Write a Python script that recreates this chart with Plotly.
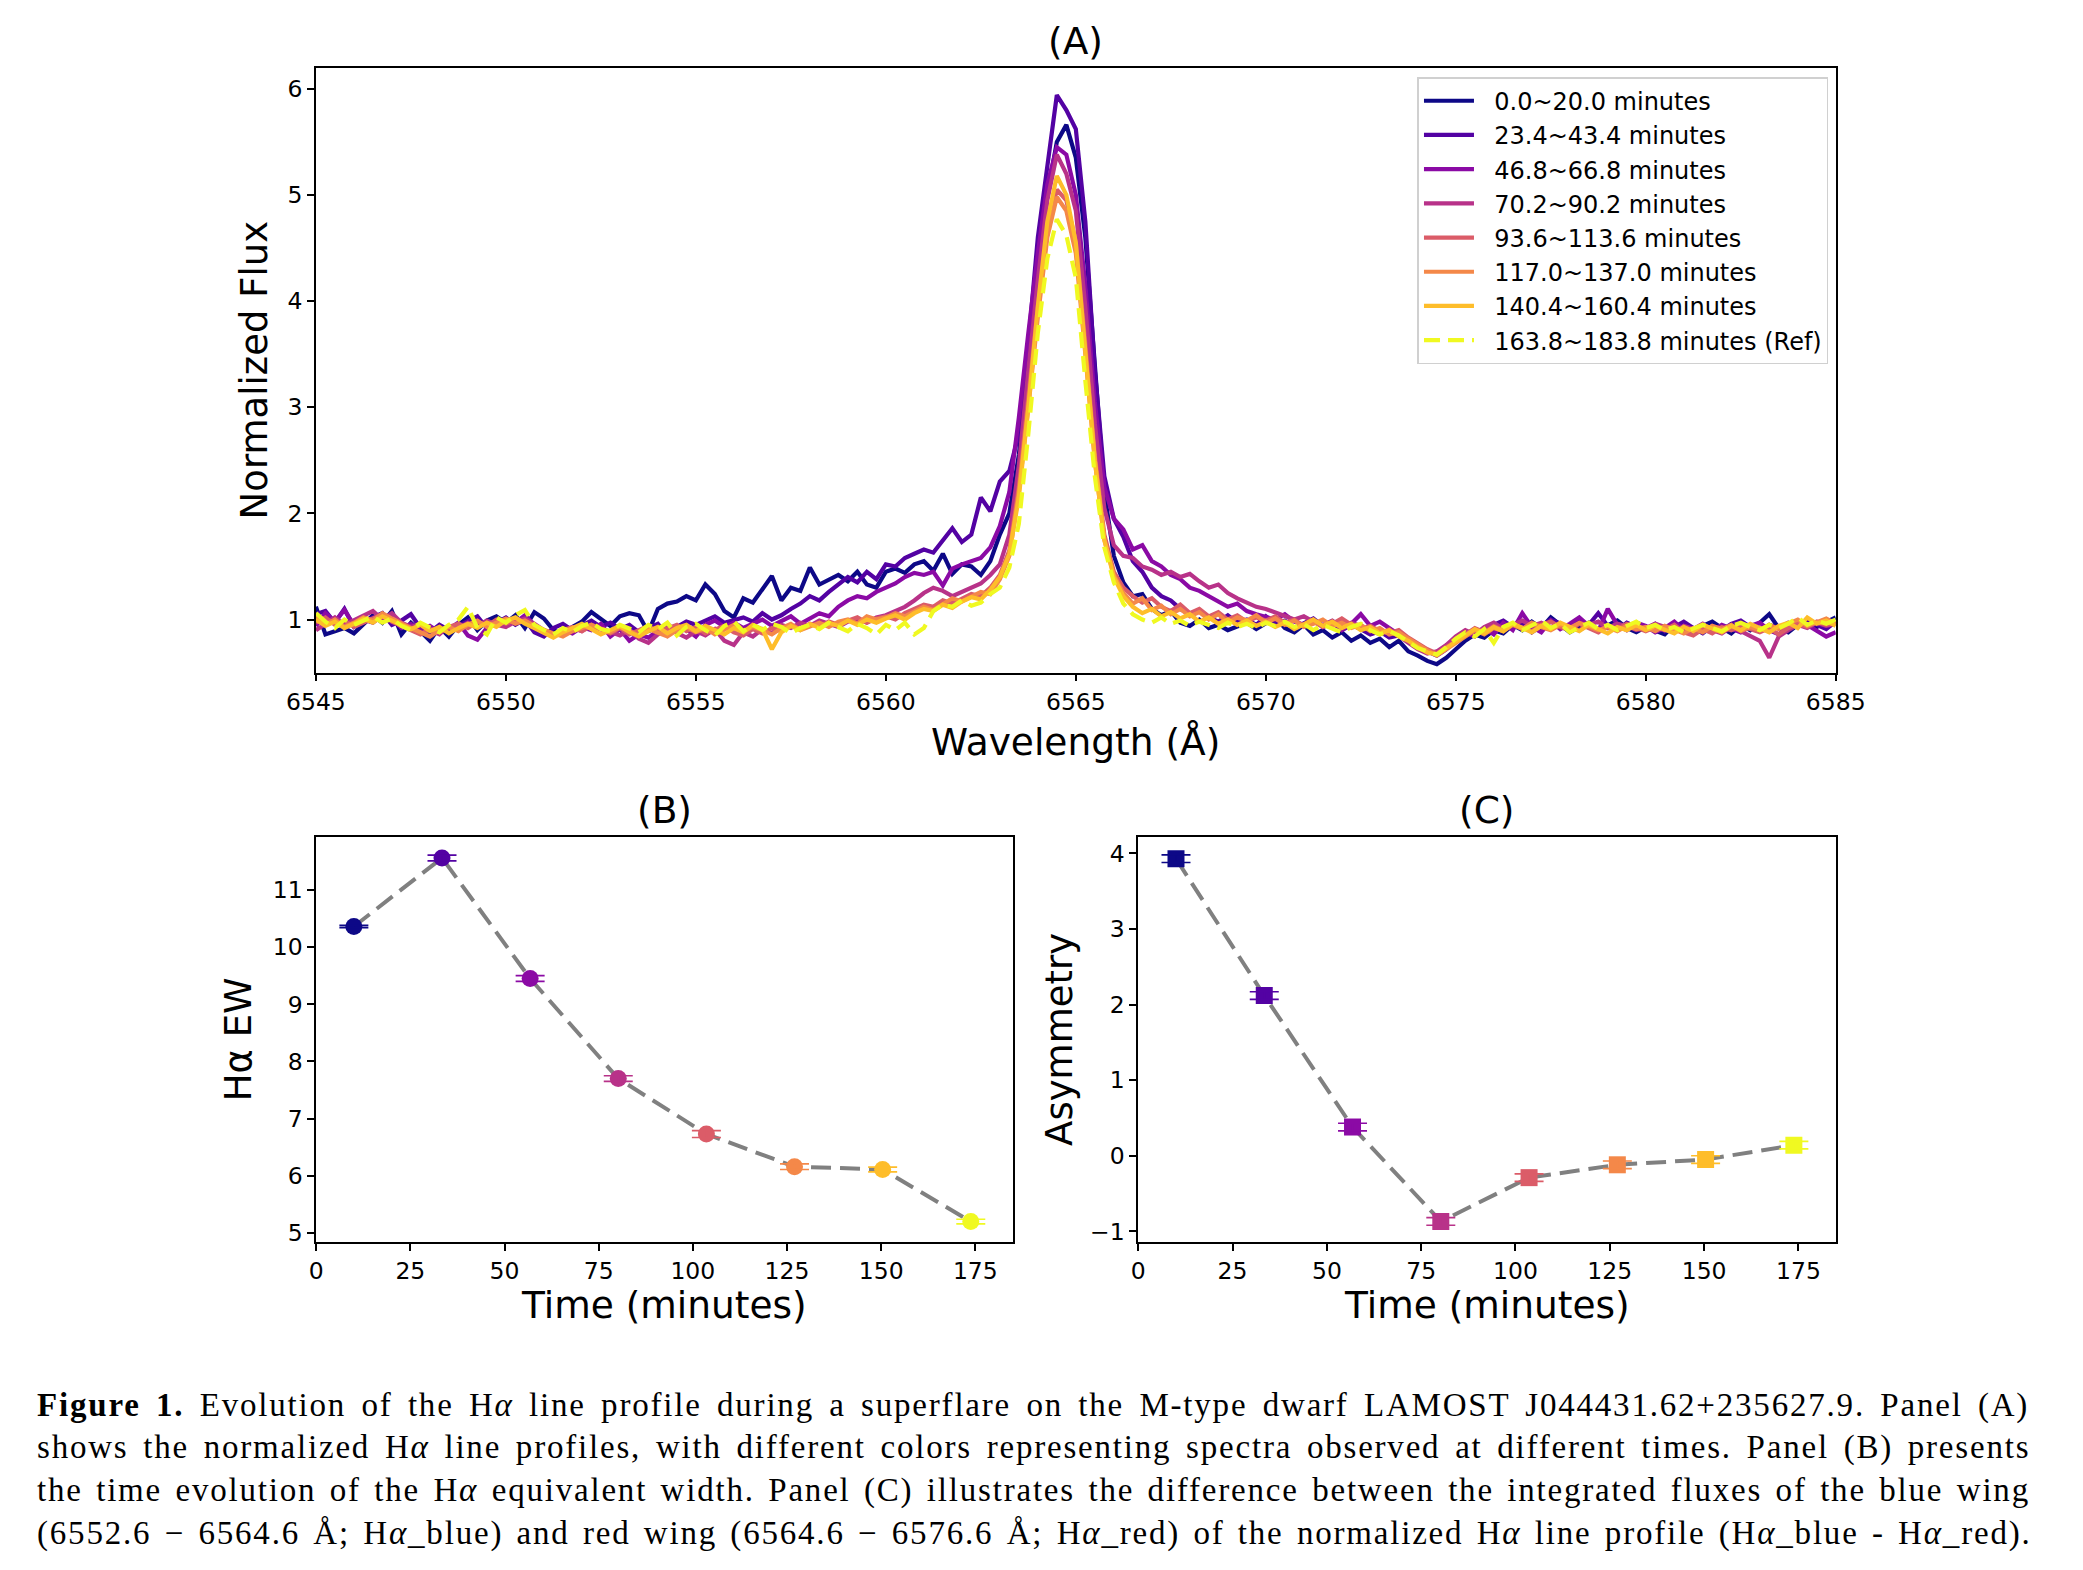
import plotly.graph_objects as go

W, H = 2083, 1570

# ---------------- data ----------------
wavelength = [round(6545 + 0.25 * i, 2) for i in range(161)]

labels = ["0.0~20.0 minutes", "23.4~43.4 minutes", "46.8~66.8 minutes", "70.2~90.2 minutes",
          "93.6~113.6 minutes", "117.0~137.0 minutes", "140.4~160.4 minutes", "163.8~183.8 minutes (Ref)"]
colors = ["#0d0887", "#5302a3", "#8b0aa5", "#b83289", "#db5c68", "#f48849", "#febd2a", "#f0f921"]

flux_0_20 = [
    1.12, 0.86, 0.89, 0.92, 0.87, 0.96, 1.04, 0.97, 1.08, 0.86, 0.97, 0.89, 0.80, 0.93, 0.84, 0.95, 1.02, 0.90, 0.99, 1.03,
    0.97, 1.04, 0.92, 1.07, 1.01, 0.90, 0.86, 0.93, 0.98, 1.07, 1.00, 0.94, 1.03, 1.06, 1.04, 0.88, 1.10, 1.15, 1.17, 1.22,
    1.18, 1.33, 1.24, 1.08, 1.02, 1.20, 1.16, 1.28, 1.41, 1.18, 1.30, 1.27, 1.49, 1.33, 1.38, 1.42, 1.36, 1.45, 1.33, 1.30,
    1.45, 1.48, 1.44, 1.52, 1.55, 1.46, 1.62, 1.43, 1.52, 1.50, 1.42, 1.55, 1.80, 2.00, 2.55, 3.35, 4.20, 5.00, 5.50, 5.66,
    5.35, 4.60, 3.40, 2.20, 1.60, 1.35, 1.22, 1.24, 1.10, 1.04, 1.08, 0.97, 0.94, 1.00, 0.92, 0.95, 0.90, 0.93, 0.97, 0.91,
    0.96, 1.02, 0.92, 0.88, 0.95, 0.86, 0.90, 0.83, 0.88, 0.80, 0.85, 0.78, 0.82, 0.74, 0.80, 0.70, 0.66, 0.61, 0.58, 0.64,
    0.72, 0.80, 0.86, 0.83, 0.90, 0.87, 0.95, 0.90, 0.98, 0.92, 1.02, 0.95, 0.88, 0.93, 0.97, 0.90, 0.94, 0.99, 0.92, 0.88,
    0.93, 0.90, 0.86, 0.95, 0.91, 0.88, 0.94, 0.98, 0.92, 0.87, 0.95, 0.90, 0.97, 1.05, 0.92, 0.88, 0.95, 1.00, 0.93, 0.97,
    1.02]
flux_23_43 = [
    1.05, 1.08, 0.97, 1.10, 0.93, 0.98, 1.02, 1.06, 0.95, 0.99, 1.05, 0.92, 0.88, 0.95, 0.90, 0.94, 0.98, 1.03, 0.92, 0.97,
    1.02, 0.95, 1.00, 0.88, 0.84, 0.92, 0.96, 0.90, 0.95, 0.99, 0.93, 0.97, 0.91, 0.95, 0.88, 0.92, 0.96, 0.85, 0.93, 0.98,
    0.95, 0.99, 1.03, 0.97, 1.00, 1.02, 0.98, 1.06, 1.00, 1.04, 1.10, 1.15, 1.22, 1.18, 1.26, 1.33, 1.40, 1.35, 1.45, 1.38,
    1.52, 1.50, 1.58, 1.62, 1.66, 1.63, 1.74, 1.86, 1.73, 1.80, 2.15, 2.02, 2.30, 2.40, 2.75, 3.60, 4.60, 5.30, 5.94, 5.80,
    5.62, 4.75, 3.35, 2.35, 1.95, 1.78, 1.55, 1.45, 1.30, 1.22, 1.18, 1.10, 1.05, 1.08, 1.02, 0.98, 1.04, 0.97, 1.00, 0.95,
    1.03, 0.96, 0.99, 0.92, 0.97, 1.01, 0.94, 0.98, 0.90, 0.95, 0.91, 0.86, 0.89, 0.83, 0.85, 0.80, 0.74, 0.70, 0.66, 0.72,
    0.80, 0.85, 0.91, 0.88, 0.95, 0.99, 0.93, 0.97, 0.88, 0.94, 1.00, 0.96, 0.92, 0.98, 0.95, 1.06, 0.94, 0.90, 0.97, 0.93,
    0.91, 0.96, 0.89, 0.93, 0.98, 0.92, 0.87, 0.94, 0.90, 0.96, 0.99, 0.93, 0.89, 0.95, 0.92, 0.97, 0.94, 0.99, 0.95, 0.91,
    0.98]
flux_46_66 = [
    0.94, 1.06, 0.98, 1.09, 0.95, 1.00, 0.97, 1.04, 1.01, 0.92, 0.96, 0.90, 0.94, 0.88, 0.91, 0.97, 0.85, 0.81, 0.92, 0.96,
    1.00, 0.97, 1.04, 0.95, 0.89, 0.85, 0.90, 0.87, 0.93, 0.90, 0.96, 0.84, 0.91, 0.80, 0.86, 0.83, 0.90, 0.96, 0.88, 0.91,
    0.84, 0.95, 0.99, 0.93, 0.97, 0.92, 0.96, 1.00, 0.94, 0.98, 1.03, 0.96, 1.01, 1.06, 1.03, 1.12, 1.18, 1.22, 1.20, 1.26,
    1.30, 1.34, 1.40, 1.44, 1.42, 1.45, 1.32, 1.48, 1.52, 1.55, 1.58, 1.68, 1.88, 2.20, 2.90, 3.70, 4.45, 5.10, 5.45, 5.38,
    5.00, 4.15, 3.05, 2.25, 1.95, 1.85, 1.66, 1.70, 1.55, 1.50, 1.42, 1.38, 1.30, 1.27, 1.22, 1.18, 1.12, 1.15, 1.08, 1.05,
    1.03, 1.00, 1.05, 0.98, 0.95, 1.00, 0.93, 0.97, 0.90, 0.96, 1.05, 0.94, 0.98, 0.92, 0.86, 0.82, 0.76, 0.70, 0.68, 0.75,
    0.82, 0.88, 0.84, 0.92, 0.86, 0.97, 0.90, 1.06, 0.93, 0.88, 0.99, 0.91, 0.96, 1.02, 0.94, 0.89, 1.10, 0.95, 0.90, 0.97,
    0.94, 0.88, 0.92, 0.98, 0.90, 0.86, 0.93, 0.89, 0.95, 0.91, 0.88, 0.94, 0.97, 0.90, 0.86, 0.93, 0.99, 0.95, 0.90, 0.84,
    0.88]
flux_70_90 = [
    0.90, 0.96, 1.02, 0.95, 0.99, 1.04, 1.08, 1.00, 1.06, 0.97, 0.93, 0.96, 0.90, 0.86, 0.94, 0.92, 0.97, 0.94, 0.99, 0.95,
    0.93, 0.98, 1.01, 0.96, 0.90, 0.86, 0.88, 0.92, 0.89, 0.95, 0.92, 0.88, 0.85, 0.90, 0.82, 0.78, 0.86, 0.92, 0.87, 0.83,
    0.89, 0.85, 0.91, 0.80, 0.76, 0.88, 0.84, 0.91, 0.87, 0.95, 0.92, 0.97, 0.94, 0.99, 0.96, 0.93, 0.98, 1.01, 0.97, 1.02,
    1.04, 1.08, 1.12, 1.18, 1.25, 1.30, 1.27, 1.22, 1.26, 1.30, 1.34, 1.42, 1.52, 1.80, 2.45, 3.35, 4.20, 4.95, 5.38, 5.20,
    4.85, 3.95, 2.85, 2.05, 1.70, 1.60, 1.58, 1.50, 1.47, 1.42, 1.45, 1.40, 1.43, 1.36, 1.30, 1.33, 1.25, 1.20, 1.16, 1.12,
    1.10, 1.07, 1.04, 1.00, 1.03, 0.98, 0.95, 0.99, 0.93, 0.97, 0.94, 0.90, 0.86, 0.91, 0.84, 0.78, 0.72, 0.68, 0.70, 0.76,
    0.84, 0.90, 0.86, 0.93, 0.97, 0.91, 0.95, 0.99, 0.94, 0.97, 0.92, 0.96, 0.93, 0.90, 0.95, 0.98, 0.92, 0.96, 0.94, 0.90,
    0.92, 0.96, 0.93, 0.88, 0.94, 0.91, 0.96, 0.90, 0.87, 0.93, 0.89, 0.85, 0.80, 0.64, 0.84, 0.90, 0.95, 0.92, 0.97, 0.94,
    0.96]
flux_93_113 = [
    0.97, 1.02, 0.95, 0.99, 0.93, 0.97, 1.01, 1.05, 0.98, 0.94, 0.90, 0.86, 0.91, 0.88, 0.93, 0.96, 0.92, 0.98, 0.94, 1.00,
    0.96, 1.00, 0.97, 0.92, 0.88, 0.85, 0.90, 0.93, 0.89, 0.94, 0.90, 0.87, 0.92, 0.86, 0.90, 0.94, 0.88, 0.91, 0.95, 0.89,
    0.93, 0.87, 0.90, 0.94, 0.88, 0.85, 0.91, 0.87, 0.92, 0.89, 0.94, 0.91, 0.96, 0.93, 0.98, 0.95, 0.99, 1.02, 0.97, 1.01,
    1.03, 1.00, 1.06, 1.10, 1.14, 1.12, 1.18, 1.15, 1.20, 1.24, 1.22, 1.30, 1.42, 1.65, 2.25, 3.10, 3.95, 4.65, 5.05, 4.95,
    4.55, 3.60, 2.55, 1.80, 1.45, 1.30, 1.22, 1.16, 1.20, 1.12, 1.08, 1.14, 1.06, 1.10, 1.03, 1.07, 1.00, 1.04, 0.98, 1.02,
    0.99, 1.03, 0.97, 1.00, 0.94, 0.98, 0.93, 0.96, 1.01, 0.95, 0.91, 0.94, 0.89, 0.87, 0.90, 0.83, 0.77, 0.72, 0.68, 0.74,
    0.81, 0.87, 0.92, 0.88, 0.94, 0.90, 0.96, 0.92, 0.89, 0.95, 0.98, 0.93, 0.90, 0.96, 0.92, 0.88, 0.94, 0.91, 0.96, 0.92,
    0.89, 0.93, 0.90, 0.95, 0.88, 0.85, 0.91, 0.87, 0.93, 0.90, 0.94, 0.91, 0.88, 0.92, 0.86, 0.92, 0.96, 0.93, 0.98, 0.95,
    0.97]
flux_117_137 = [
    1.03, 0.95, 1.00, 0.93, 0.97, 1.02, 0.99, 1.06, 1.01, 0.96, 0.92, 0.88, 0.84, 0.90, 0.93, 0.89, 0.95, 0.99, 0.93, 0.97,
    1.01, 0.96, 0.99, 0.94, 0.90, 0.87, 0.84, 0.89, 0.92, 0.95, 0.91, 0.88, 0.93, 0.89, 0.85, 0.91, 0.88, 0.84, 0.90, 0.93,
    0.88, 0.92, 0.86, 0.90, 0.95, 0.89, 0.93, 0.90, 0.86, 0.92, 0.96, 0.90, 0.94, 0.97, 0.93, 0.98, 1.00, 0.96, 1.03, 1.00,
    1.02, 1.06, 1.03, 1.08, 1.12, 1.09, 1.15, 1.20, 1.17, 1.22, 1.26, 1.24, 1.38, 1.60, 2.20, 3.00, 3.85, 4.60, 4.98, 4.85,
    4.45, 3.50, 2.50, 1.75, 1.42, 1.25, 1.15, 1.20, 1.09, 1.13, 1.05, 1.10, 1.03, 1.07, 1.00, 1.05, 0.97, 1.02, 0.99, 1.04,
    0.97, 1.01, 0.95, 0.99, 0.93, 0.96, 1.00, 0.94, 0.97, 0.92, 0.95, 0.89, 0.92, 0.86, 0.88, 0.82, 0.76, 0.71, 0.66, 0.72,
    0.79, 0.85, 0.90, 0.86, 0.92, 0.89, 0.95, 0.91, 0.97, 0.93, 0.90, 0.95, 0.92, 0.97, 0.94, 0.90, 0.93, 0.89, 0.94, 0.91,
    0.93, 0.89, 0.94, 0.90, 0.87, 0.92, 0.88, 0.94, 0.91, 0.95, 0.89, 0.93, 0.90, 0.95, 0.91, 0.96, 1.00, 0.94, 0.97, 1.01,
    0.96]
flux_140_160 = [
    1.00, 0.94, 0.98, 0.92, 0.96, 1.01, 0.97, 1.03, 0.99, 0.95, 0.91, 0.95, 0.89, 0.93, 0.87, 0.92, 0.96, 0.92, 0.97, 0.93,
    0.99, 1.02, 0.96, 0.92, 0.87, 0.83, 0.88, 0.92, 0.96, 0.91, 0.86, 0.90, 0.94, 0.88, 0.84, 0.89, 0.93, 0.87, 0.92, 0.95,
    0.89, 0.94, 0.90, 0.86, 0.92, 0.88, 0.95, 0.91, 0.72, 0.88, 0.94, 0.90, 0.96, 0.92, 0.97, 0.94, 0.99, 0.95, 1.00, 0.97,
    1.01, 1.04, 1.00, 1.06, 1.10, 1.08, 1.14, 1.11, 1.17, 1.21, 1.19, 1.28, 1.40, 1.62, 2.15, 3.00, 3.95, 4.75, 5.18, 5.00,
    4.55, 3.55, 2.50, 1.75, 1.40, 1.22, 1.12, 1.06, 1.10, 1.03, 1.07, 1.01, 1.05, 0.98, 1.02, 0.96, 1.00, 0.95, 0.99, 0.94,
    0.98, 0.93, 0.97, 0.91, 0.95, 1.00, 0.94, 0.98, 0.92, 0.96, 0.90, 0.93, 0.87, 0.90, 0.84, 0.80, 0.74, 0.69, 0.67, 0.73,
    0.80, 0.86, 0.91, 0.87, 0.93, 0.89, 0.96, 0.92, 0.88, 0.94, 0.91, 0.97, 0.93, 0.89, 0.95, 0.91, 0.87, 0.93, 0.90, 0.95,
    0.90, 0.94, 0.91, 0.87, 0.93, 0.89, 0.95, 0.92, 0.88, 0.94, 0.90, 0.96, 0.92, 0.88, 0.94, 0.97, 0.92, 1.02, 0.96, 0.99,
    0.94]
flux_163_183 = [
    1.06, 0.98, 0.92, 1.00, 0.95, 0.99, 1.03, 0.97, 1.01, 0.94, 0.90, 0.97, 0.93, 0.88, 0.95, 1.00, 1.12, 0.92, 0.86, 1.02,
    0.97, 1.04, 1.09, 0.95, 0.90, 0.86, 0.92, 0.88, 0.94, 0.97, 0.91, 0.89, 0.95, 0.92, 0.88, 0.95, 0.91, 0.97, 0.85, 0.93,
    0.96, 0.90, 0.85, 0.94, 0.98, 0.89, 0.95, 0.90, 0.96, 0.93, 0.87, 0.92, 0.95, 0.91, 0.97, 0.93, 0.89, 0.96, 0.92, 0.86,
    0.95, 0.90, 0.97, 0.86, 0.92, 1.08, 1.14, 1.12, 1.18, 1.13, 1.16, 1.24, 1.30, 1.49, 1.90, 2.75, 3.70, 4.40, 4.77, 4.62,
    4.22, 3.25, 2.35, 1.68, 1.35, 1.15, 1.05, 1.00, 0.97, 1.02, 0.96, 0.99, 0.94, 0.98, 0.95, 0.92, 0.97, 0.93, 0.96, 0.92,
    0.97, 0.94, 0.98, 0.93, 0.96, 0.90, 0.95, 0.91, 0.88, 0.93, 0.96, 0.90, 0.86, 0.89, 0.85, 0.79, 0.73, 0.70, 0.67, 0.74,
    0.82, 0.88, 0.84, 0.91, 0.78, 0.93, 0.97, 0.90, 0.94, 0.99, 0.92, 0.96, 0.88, 0.93, 0.97, 0.91, 0.95, 0.90, 0.94, 0.98,
    0.92, 0.95, 0.90, 0.93, 0.88, 0.91, 0.95, 0.92, 0.89, 0.94, 0.97, 0.93, 0.90, 0.95, 0.92, 0.96, 1.02, 0.95, 0.99, 0.96,
    1.00]

spectra = [flux_0_20, flux_23_43, flux_46_66, flux_70_90, flux_93_113, flux_117_137, flux_140_160, flux_163_183]

time_mid = [10.0, 33.4, 56.8, 80.2, 103.6, 127.0, 150.4, 173.8]
ha_ew = [10.36, 11.56, 9.45, 7.70, 6.73, 6.16, 6.11, 5.20]
ha_ew_err = [0.02, 0.05, 0.05, 0.05, 0.06, 0.05, 0.04, 0.04]
asymmetry = [3.93, 2.12, 0.38, -0.87, -0.29, -0.12, -0.05, 0.14]
asym_err = [0.05, 0.05, 0.05, 0.05, 0.05, 0.05, 0.05, 0.05]

wl_ticks = [6545, 6550, 6555, 6560, 6565, 6570, 6575, 6580, 6585]
flux_ticks = [1, 2, 3, 4, 5, 6]
time_ticks = [0, 25, 50, 75, 100, 125, 150, 175]
ew_ticks = [5, 6, 7, 8, 9, 10, 11]
asym_ticks = [-1, 0, 1, 2, 3, 4]

caption_lines = [
    "<b>Figure 1.</b> Evolution of the H<i>α</i> line profile during a superflare on the M-type dwarf LAMOST J044431.62+235627.9. Panel (A)",
    "shows the normalized H<i>α</i> line profiles, with different colors representing spectra observed at different times. Panel (B) presents",
    "the time evolution of the H<i>α</i> equivalent width. Panel (C) illustrates the difference between the integrated fluxes of the blue wing",
    "(6552.6 − 6564.6 Å; H<i>α</i>_blue) and red wing (6564.6 − 6576.6 Å; H<i>α</i>_red) of the normalized H<i>α</i> line profile (H<i>α</i>_blue - H<i>α</i>_red).",
]
caption_word_spacing = [5.3, 4.7, 3.4, 3.3]

# ------------- placement helpers (pixel targets -> paper coords) -------------
SX, OX = 0.9729, 35.1
SY, OY = 0.9977, 6.8


def fx(px):
    return (px - OX) / SX / W


def fy(py):
    return 1 - (py - OY) / SY / H


SANS = "DejaVu Sans"
fig = go.Figure()

for i, (flux, lab, col) in enumerate(zip(spectra, labels, colors)):
    dash = "16px,8px" if i == len(spectra) - 1 else "solid"
    fig.add_trace(go.Scatter(x=wavelength, y=flux, mode="lines", name="\u00a0\u00a0" + lab,
                             line=dict(color=col, width=4.2, dash=dash),
                             xaxis="x", yaxis="y", showlegend=True))

# Panel B
fig.add_trace(go.Scatter(x=time_mid, y=ha_ew, mode="lines",
                         line=dict(color="#808080", width=4, dash="20px,9px"),
                         xaxis="x2", yaxis="y2", showlegend=False))
for i in range(len(time_mid)):
    fig.add_trace(go.Scatter(x=[time_mid[i]], y=[ha_ew[i]], mode="markers",
                             marker=dict(color=colors[i], size=17, symbol="circle"),
                             xaxis="x2", yaxis="y2", showlegend=False))
    fig.add_trace(go.Scatter(x=[time_mid[i]], y=[ha_ew[i]], mode="markers",
                             marker=dict(color=colors[i], size=1, opacity=0),
                             error_y=dict(type="data", array=[ha_ew_err[i]], color=colors[i],
                                          thickness=1.7, width=14.5),
                             xaxis="x2", yaxis="y2", showlegend=False))

# Panel C
fig.add_trace(go.Scatter(x=time_mid, y=asymmetry, mode="lines",
                         line=dict(color="#808080", width=4, dash="20px,9px"),
                         xaxis="x3", yaxis="y3", showlegend=False))
for i in range(len(time_mid)):
    fig.add_trace(go.Scatter(x=[time_mid[i]], y=[asymmetry[i]], mode="markers",
                             marker=dict(color=colors[i], size=17, symbol="square"),
                             xaxis="x3", yaxis="y3", showlegend=False))
    fig.add_trace(go.Scatter(x=[time_mid[i]], y=[asymmetry[i]], mode="markers",
                             marker=dict(color=colors[i], size=1, opacity=0),
                             error_y=dict(type="data", array=[asym_err[i]], color=colors[i],
                                          thickness=1.7, width=14.5),
                             xaxis="x3", yaxis="y3", showlegend=False))

axis_common = dict(showline=True, mirror=True, linecolor="black", linewidth=1.6,
                   ticks="outside", ticklen=7, tickwidth=1.6, tickcolor="black",
                   showgrid=False, zeroline=False,
                   tickfont=dict(family=SANS, size=23.5, color="black"))

fig.update_layout(
    width=W, height=H,
    margin=dict(l=0, r=0, t=0, b=0),
    paper_bgcolor="white", plot_bgcolor="white",
    font=dict(family=SANS, color="black"),
    xaxis=dict(domain=[fx(313.5), fx(1836)], range=[6545, 6585], tickvals=wl_ticks, anchor="y", **axis_common),
    yaxis=dict(domain=[fy(672), fy(66.4)], range=[0.5, 6.2], tickvals=flux_ticks, anchor="x", **axis_common),
    xaxis2=dict(domain=[fx(313.8), fx(1011.4)], range=[0, 184.9], tickvals=time_ticks, anchor="y2", **axis_common),
    yaxis2=dict(domain=[fy(1242), fy(836.9)], range=[4.84, 11.92], tickvals=ew_ticks, anchor="x2", **axis_common),
    xaxis3=dict(domain=[fx(1137.3), fx(1836)], range=[0, 184.9], tickvals=time_ticks, anchor="y3", **axis_common),
    yaxis3=dict(domain=[fy(1242), fy(836.9)], range=[-1.143, 4.213], tickvals=asym_ticks, anchor="x3", **axis_common),
    legend=dict(x=fx(1417), y=fy(76), xanchor="left", yanchor="top",
                bgcolor="rgba(255,255,255,0.85)", bordercolor="#d0d0d0", borderwidth=1.5,
                font=dict(family=SANS, size=24, color="black"), itemwidth=50,
                tracegroupgap=0),
)


def ann(text, x, y, size, angle=0, xanchor="center", family=SANS):
    fig.add_annotation(text=text, x=fx(x), y=fy(y), xref="paper", yref="paper",
                       showarrow=False, textangle=angle, xanchor=xanchor, yanchor="middle",
                       font=dict(family=family, size=size, color="black"))


ann("(A)", 1074.75, 40, 37.5)
ann("(B)", 662.5, 810, 37.5)
ann("(C)", 1486.6, 810, 37.5)
ann("Normalized Flux", 252, 369, 37, angle=-90)
ann("Wavelength (Å)", 1074.75, 741, 37.5)
ann("Hα EW", 236, 1039.5, 37, angle=-90)
ann("Asymmetry", 1059, 1039.5, 37, angle=-90)
ann("Time (minutes)", 662.5, 1304.5, 37.5)
ann("Time (minutes)", 1486.6, 1304.5, 37.5)

cap_y = [1405.5, 1448, 1491, 1534]
for line, yy, ws in zip(caption_lines, cap_y, caption_word_spacing):
    styled = '<span style="letter-spacing:1.8px;word-spacing:%.1fpx">%s</span>' % (ws, line)
    ann(styled, 32, yy, 33, xanchor="left", family="Liberation Serif")

fig.write_html("out.html")
